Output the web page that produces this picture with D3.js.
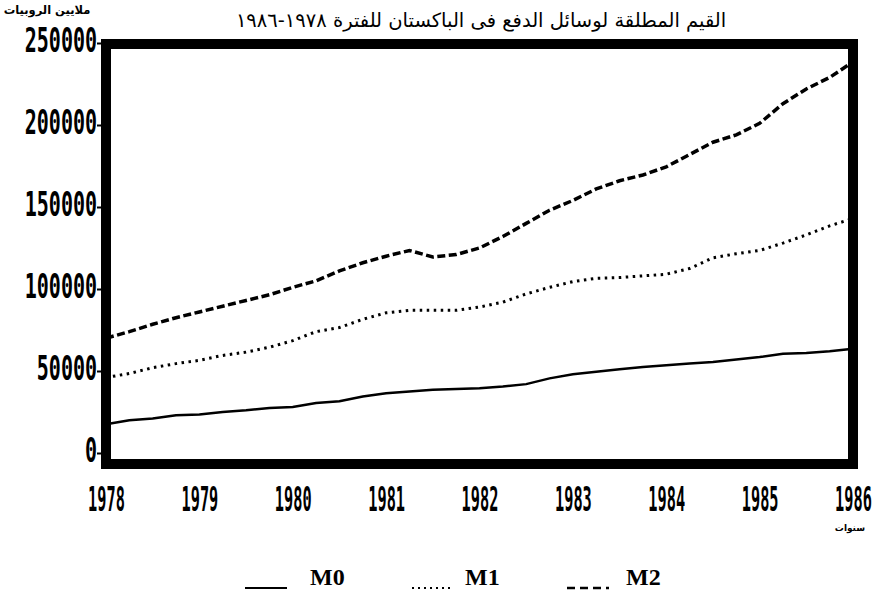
<!DOCTYPE html>
<html lang="ar">
<head>
    <meta charset="utf-8"/>
    <title>وسائل الدفع في الباكستان</title>
    <script src="https://d3js.org/d3.v7.min.js"></script>
    <style>
        body { margin: 0; background: #fff; }
        svg { display: block; }
    </style>
</head>
<body>
<script>
    // quarterly readings, 1978.0 .. 1986.0, million rupees
    const quarters = d3.range(0, 33).map(i => 1978 + i / 4);
    const m0 = [17500, 20000, 21000, 23000, 23500, 25000, 26000, 27500, 28000, 30500, 31500,
        34500, 36500, 37500, 38500, 39000, 39500, 40500, 42000, 45500, 48000, 49500,
        51000, 52500, 53500, 54500, 55500, 57000, 58500, 60500, 61000, 62000, 63500];
    const m1 = [46000, 48500, 52000, 54500, 56500, 59500, 61500, 64500, 68500, 74000, 76500,
        81500, 85500, 87000, 87000, 87000, 89000, 92000, 97000, 101000, 104500, 106500,
        107000, 108000, 109000, 112500, 119000, 121500, 123500, 128000, 133000, 138500, 143000];
    const m2 = [70000, 74000, 78500, 82500, 86000, 89500, 93000, 96500, 101000, 105000, 111000,
        116000, 120000, 123500, 119500, 121000, 125000, 132000, 140000, 148000, 154000, 161000,
        166000, 169500, 174500, 182000, 189500, 194000, 201000, 213000, 222000, 229000, 238500];
    const yearTicks = [1978, 1979, 1980, 1981, 1982, 1983, 1984, 1985, 1986];
    const valueTicks = [0, 50000, 100000, 150000, 200000, 250000];
    const seriesNames = ["M0", "M1", "M2"];

    const width = 883, height = 596;
    const svg = d3.select("body").append("svg")
        .attr("width", width)
        .attr("height", height);

    const x = d3.scaleLinear().domain([1978, 1986]).range([106, 853]);
    const y = d3.scaleLinear().domain([0, 250000]).range([453, 43]);

    // title
    svg.append("text")
        .attr("x", 481).attr("y", 27)
        .attr("direction", "rtl")
        .attr("text-anchor", "middle")
        .style("font-family", "DejaVu Sans")
        .style("font-size", "19.5px")
        .text("القيم المطلقة لوسائل الدفع فى الباكستان للفترة ١٩٧٨-١٩٨٦");

    svg.append("text")
        .attr("x", 47).attr("y", 14)
        .attr("direction", "rtl")
        .attr("text-anchor", "middle")
        .style("font-family", "DejaVu Sans")
        .style("font-size", "11.5px")
        .style("font-weight", "bold")
        .text("ملايين الروبيات");

    svg.append("text")
        .attr("x", 850).attr("y", 531)
        .attr("direction", "rtl")
        .attr("text-anchor", "middle")
        .style("font-family", "DejaVu Sans")
        .style("font-size", "9px")
        .style("font-weight", "bold")
        .text("سنوات");

    // series lines
    const line = d3.line().x(d => x(d[0])).y(d => y(d[1]));
    const styles = {
        M0: {data: m0, dash: null, w: 2.5},
        M1: {data: m1, dash: "2.5,4.5", w: 3},
        M2: {data: m2, dash: "8,3.5", w: 3.5}
    };
    seriesNames.forEach(name => {
        const s = styles[name];
        svg.append("path")
            .datum(quarters.map((q, i) => [q, s.data[i]]))
            .attr("fill", "none")
            .attr("stroke", "#000")
            .attr("stroke-width", s.w)
            .attr("stroke-dasharray", s.dash)
            .attr("d", line);
    });

    // thick frame
    svg.append("rect")
        .attr("x", 106).attr("y", 44)
        .attr("width", 747).attr("height", 420)
        .attr("fill", "none")
        .attr("stroke", "#000")
        .attr("stroke-width", 10);

    // y axis
    const yAxis = svg.append("g")
        .attr("transform", "translate(101,0)")
        .call(d3.axisLeft(y).tickValues(valueTicks).tickSize(4).tickFormat(d3.format("d")));
    yAxis.select(".domain").remove();
    yAxis.selectAll("line").attr("stroke-width", 2);
    yAxis.selectAll("text")
        .attr("x", null).attr("dy", null)
        .attr("transform", "translate(-4,8) scale(1.0,1.65)")
        .attr("text-anchor", "end")
        .style("font-family", "DejaVu Sans Mono")
        .style("font-weight", "bold")
        .style("font-size", "20px")
        .attr("fill", "#000");

    // x axis
    const xAxis = svg.append("g")
        .attr("transform", "translate(0,470)")
        .call(d3.axisBottom(x).tickValues(yearTicks).tickSize(0).tickFormat(d3.format("d")));
    xAxis.select(".domain").remove();
    xAxis.selectAll("text")
        .attr("y", null).attr("dy", null)
        .attr("transform", "translate(0,41) scale(0.9,2.0)")
        .style("font-family", "DejaVu Sans Mono")
        .style("font-weight", "bold")
        .style("font-size", "17px")
        .attr("fill", "#000");

    // legend
    const legendX = [245, 412, 567];
    const legend = svg.append("g");
    seriesNames.forEach((name, i) => {
        legend.append("line")
            .attr("x1", legendX[i]).attr("x2", legendX[i] + 42)
            .attr("y1", 588).attr("y2", 588)
            .attr("stroke", "#000")
            .attr("stroke-width", name === "M2" ? 2.5 : 2)
            .attr("stroke-dasharray", name === "M0" ? null : (name === "M1" ? "2,4" : "8,5"));
        legend.append("text")
            .attr("x", legendX[i] + [65, 53, 59][i]).attr("y", 585)
            .style("font-family", "Liberation Serif")
            .style("font-weight", "bold")
            .style("font-size", "24px")
            .text(name);
    });
</script>
</body>
</html>
